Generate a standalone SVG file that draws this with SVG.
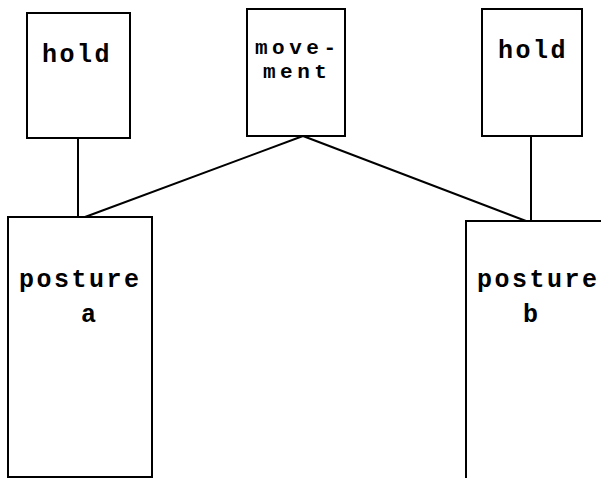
<svg xmlns="http://www.w3.org/2000/svg" width="601" height="478" viewBox="0 0 601 478">
<style>
.box{fill:#fff;stroke:#000;stroke-width:2}
.t{font-family:"Liberation Mono","Courier New",monospace;font-weight:bold;font-size:25px;letter-spacing:2.5px;fill:#000}
.m{font-size:21px;letter-spacing:4.5px}
.c{stroke:#000;stroke-width:2;fill:none}
</style>
<rect width="601" height="478" fill="#fff"/>
<g id="connectors">
<line class="c" x1="78" y1="138" x2="78" y2="217"/>
<line class="c" x1="531" y1="136" x2="531" y2="221"/>
<line class="c" x1="303" y1="136" x2="85" y2="217"/>
<line class="c" x1="303" y1="136" x2="526" y2="221"/>
</g>
<g id="hold-left">
<rect class="box" x="27" y="13" width="103" height="125"/>
<text class="t" x="42" y="62">hold</text>
</g>
<g id="movement">
<rect class="box" x="247" y="9" width="98" height="127"/>
<text class="t m" x="255" y="54">move-</text>
<text class="t m" x="263" y="78">ment</text>
</g>
<g id="hold-right">
<rect class="box" x="482" y="9" width="100" height="127"/>
<text class="t" x="498" y="58">hold</text>
</g>
<g id="posture-a">
<rect class="box" x="8" y="217" width="144" height="260"/>
<text class="t" x="19" y="287">posture</text>
<text class="t" x="81" y="322">a</text>
</g>
<g id="posture-b">
<rect class="box" x="466" y="221" width="145" height="270"/>
<text class="t" x="477" y="287">posture</text>
<text class="t" x="523" y="322">b</text>
</g>
</svg>
